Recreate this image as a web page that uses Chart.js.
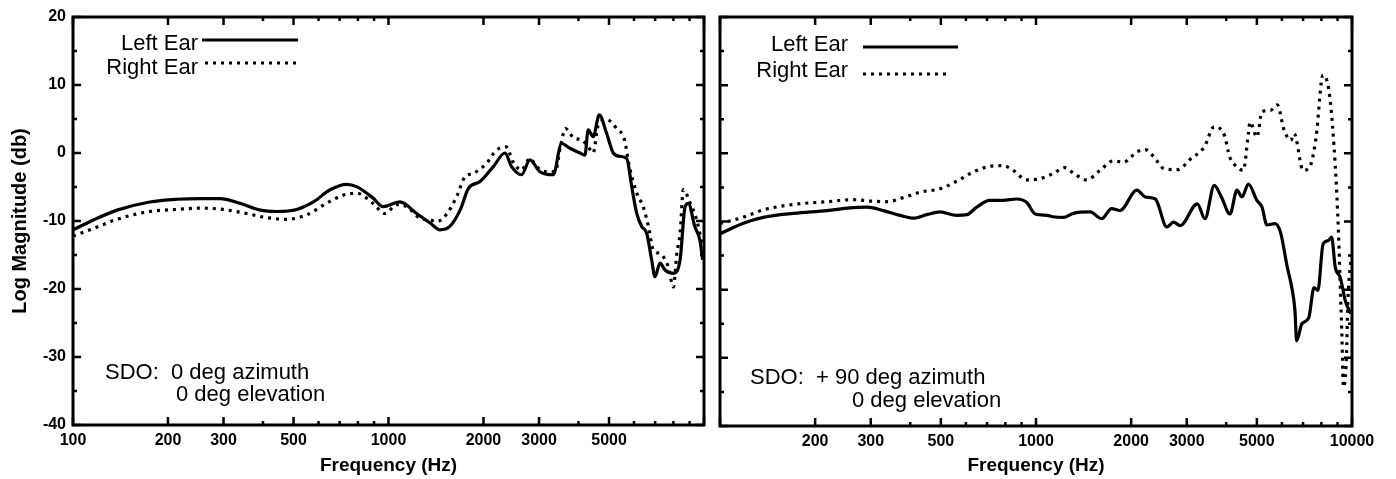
<!DOCTYPE html>
<html><head><meta charset="utf-8">
<script src="https://cdn.jsdelivr.net/npm/chart.js@4.4.0/dist/chart.umd.min.js"></script>
<style>
html,body{margin:0;padding:0;background:#fff;}
#wrap{position:relative;width:1396px;height:479px;overflow:hidden;background:#fff;}
canvas{position:absolute;top:0;}
</style></head><body>
<div id="wrap">
<canvas id="c1" width="712" height="479" style="left:0"></canvas>
<canvas id="c2" width="684" height="479" style="left:712px"></canvas>
</div>
<script>
// ---------- axis ticks ----------
const freqTicks = [100,200,300,500,1000,2000,3000,5000,10000];
const freqMinor = [400,600,700,800,900,4000,6000,7000,8000,9000];
const dbTicks = [20,10,0,-10,-20,-30,-40];
const dbMinor = [15,5,-5,-15,-25,-35];
const seriesNames = ["Left Ear","Right Ear"];
const xTitle = "Frequency (Hz)";
const yTitle = "Log Magnitude (db)";
const noteLeft = ["SDO:  0 deg azimuth","0 deg elevation"];
const noteRight = ["SDO:  + 90 deg azimuth","0 deg elevation"];

// ---------- panel 1 : 0 deg azimuth ----------
const p1LeftFreq = [100,116,138,175,213,253,293,338,392,442,512,578,653,737,792,892,962,1087,1228,1355,1456,1564,1686,1792,1951,2149,2340,2455,2642,2806,3018,3326,3537,3758,4044,4193,4295,4453,4657,4912,5158,5418,5690,5902,6123,6346,6581,6824,6993,7255,7526,8000,8400,8710,8920,9350,9700,9900];
const p1LeftDb = [-11.3,-9.85,-8.4,-7.2,-6.8,-6.7,-6.7,-7.4,-8.4,-8.6,-8.3,-7.2,-5.4,-4.6,-4.95,-6.6,-7.9,-7.2,-8.9,-10.3,-11.3,-10.8,-8.4,-5.2,-4.2,-2.0,0.0,-2.0,-3.2,-1.0,-2.75,-3.2,1.4,0.7,0,-0.3,3.4,2.4,5.6,2.9,0,-0.5,-0.8,-5.0,-8.9,-10.8,-11.8,-15.7,-18.2,-16.2,-17.2,-17.7,-15.7,-7.9,-7.4,-10.8,-12.8,-15.7];
const p1RightFreq = [100,116,138,175,213,253,299,355,411,476,550,636,718,792,892,974,1063,1144,1259,1355,1424,1533,1645,1748,1856,2047,2196,2362,2481,2640,2806,2948,3172,3378,3506,3637,3867,4110,4295,4453,4620,4912,5291,5600,5800,6123,6415,6666,6912,7255,7700,8000,8200,8400,8600,9050,9480,9900];
const p1RightDb = [-12.2,-11.1,-9.75,-8.6,-8.3,-8.1,-8.3,-8.9,-9.5,-9.75,-9.1,-7.4,-6.2,-5.9,-7.4,-8.9,-7.6,-7.9,-9.6,-9.85,-10.1,-8.9,-6.4,-3.5,-3.0,-1.5,0.4,0.9,-1.3,-2.5,-0.8,-2.0,-2.75,-2.75,0.9,3.6,2.2,1.9,0.9,0,4.1,4.9,3.6,1.9,-2.0,-5.9,-7.9,-10.8,-14.3,-14.8,-16.7,-19.7,-14.8,-11.8,-5.4,-7.4,-9.85,-13.8];

// ---------- panel 2 : +90 deg azimuth ----------
const p2LeftFreq = [100,118,137,171,218,258,291,329,371,409,451,497,561,604,649,714,787,869,935,994,1082,1130,1220,1313,1485,1613,1735,1843,2086,2216,2386,2594,2724,2860,3240,3425,3665,3860,4110,4325,4485,4700,5000,5190,5380,5710,5940,6240,6450,6600,6680,6940,7300,7580,7800,8100,8420,8620,8850,9180,9520,9900];
const p2LeftDb = [-11.8,-10.3,-9.4,-8.8,-8.4,-8.0,-7.9,-8.4,-9.1,-9.5,-9.0,-8.6,-9.1,-9.0,-7.9,-6.9,-6.9,-6.7,-7.2,-8.9,-9.1,-9.3,-9.4,-8.8,-8.6,-9.6,-8.1,-8.4,-5.4,-6.4,-6.7,-10.8,-10.1,-10.6,-7.4,-9.6,-4.7,-6.4,-8.9,-5.4,-6.4,-4.5,-6.9,-7.9,-10.5,-10.3,-11.6,-16.7,-19.7,-23.1,-27.5,-25.0,-24.1,-19.7,-20.1,-13.3,-12.8,-12.3,-16.7,-18.2,-21.6,-23.5];
const p2RightFreq = [100,118,137,171,218,264,298,337,380,429,497,561,632,714,787,847,935,1030,1130,1233,1313,1446,1594,1758,1893,2086,2216,2359,2541,2803,3089,3405,3665,3950,4100,4325,4530,4700,4760,5000,5190,5520,5800,6100,6400,6560,7000,7350,7700,8090,8500,8850,9060,9170,9280,9400,9600,9700,9850,10000];
const p2RightDb = [-10.3,-9.4,-8.3,-7.5,-7.1,-6.8,-7.0,-7.1,-6.5,-5.7,-5.2,-4.1,-2.75,-1.9,-1.8,-2.5,-3.9,-3.7,-3.0,-2.1,-2.9,-3.9,-2.5,-1.1,-1.3,0.2,0.55,-0.5,-2.25,-2.4,-0.8,0.9,3.9,2.6,-0.5,-2.0,-2.5,2.9,4.6,2.4,6.1,6.3,7.1,3.4,1.9,2.9,-2.5,-2.0,2.4,11.5,8.4,-1.8,-11.5,-18.8,-26,-34.3,-30,-22,-17,-15];

const pts = (fs, ds) => fs.map((f, i) => ({x: f, y: ds[i]}));

const FONT = "'Liberation Sans', Arial, Helvetica, sans-serif";

const framePlugin = {
  id: 'frame',
  afterDraw(chart, args, o) {
    const {ctx, chartArea: a, scales: {x, y}} = chart;
    ctx.save();
    ctx.strokeStyle = '#000';
    ctx.lineCap = 'butt';
    ctx.lineWidth = 2.5;
    ctx.beginPath();
    const xt = (v, len) => { const px = x.getPixelForValue(v); ctx.moveTo(px, a.bottom); ctx.lineTo(px, a.bottom - len); ctx.moveTo(px, a.top); ctx.lineTo(px, a.top + len); };
    const yt = (v, len) => { const py = y.getPixelForValue(v); ctx.moveTo(a.left, py); ctx.lineTo(a.left + len, py); ctx.moveTo(a.right, py); ctx.lineTo(a.right - len, py); };
    freqTicks.forEach(v => xt(v, 8));
    freqMinor.forEach(v => xt(v, 4));
    dbTicks.forEach(v => yt(v, 8));
    dbMinor.forEach(v => yt(v, 4));
    ctx.stroke();
    ctx.lineWidth = 3;
    ctx.strokeRect(a.left, a.top, a.right - a.left, a.bottom - a.top);
    ctx.fillStyle = '#000';
    ctx.font = "22px " + FONT;
    ctx.textAlign = 'right';
    ctx.textBaseline = 'alphabetic';
    chart.data.datasets.forEach((ds, i) => {
      const L = o.legend[i];
      ctx.fillText(ds.label, L.tx, L.ty);
      ctx.beginPath();
      ctx.lineWidth = ds.borderWidth;
      ctx.setLineDash(ds.borderDash || []);
      ctx.moveTo(L.x0, L.ly); ctx.lineTo(L.x1, L.ly);
      ctx.stroke();
      ctx.setLineDash([]);
    });
    ctx.textAlign = 'left';
    o.note.forEach((n, i) => ctx.fillText(o.noteText[i], n.x, n.y));
    ctx.restore();
  }
};

function makeChart(id, d1, d2, showY, xLabelSkip, pad, xHeight, legend, note, noteText) {
  return new Chart(document.getElementById(id), {
    type: 'line',
    data: {
      datasets: [
        {label: seriesNames[0], data: d1, borderColor: '#000', borderWidth: 3.2, pointRadius: 0, cubicInterpolationMode: 'monotone', fill: false},
        {label: seriesNames[1], data: d2, borderColor: '#000', borderWidth: 3.2, borderDash: [3, 5], pointRadius: 0, cubicInterpolationMode: 'monotone', fill: false}
      ]
    },
    options: {
      responsive: false, animation: false, devicePixelRatio: 1,
      layout: {padding: pad},
      plugins: {legend: {display: false}, tooltip: {enabled: false},
        frame: {legend, note, noteText}},
      scales: {
        x: {
          type: 'logarithmic', min: 100, max: 10000,
          grid: {display: false, drawTicks: false}, border: {display: false},
          afterBuildTicks: s => { s.ticks = freqTicks.map(v => ({value: v})); },
          afterFit: s => { s.height = xHeight; },
          ticks: {autoSkip: false, maxRotation: 0, padding: 6, color: '#000',
            font: {family: FONT, size: 16, weight: 'bold'},
            callback: v => (v === xLabelSkip ? '' : String(v))},
          title: {display: true, text: xTitle, color: '#000', padding: {top: 0, bottom: 2},
            font: {family: FONT, size: 19, weight: 'bold'}}
        },
        y: {
          display: showY, min: -40, max: 20,
          grid: {display: false, drawTicks: false}, border: {display: false},
          afterBuildTicks: s => { s.ticks = dbTicks.map(v => ({value: v})); },
          afterFit: s => { s.width = showY ? 73 : 0; },
          ticks: {padding: 7, color: '#000', font: {family: FONT, size: 16, weight: 'bold'},
            callback: v => String(v)},
          title: {display: showY, text: yTitle, color: '#000', padding: {top: 8, bottom: 0},
            font: {family: FONT, size: 20, weight: 'bold'}}
        }
      }
    },
    plugins: [framePlugin]
  });
}

makeChart('c1', pts(p1LeftFreq, p1LeftDb), pts(p1RightFreq, p1RightDb), true, 10000,
  {left: 0, top: 17, right: 8, bottom: 0}, 54,
  [{tx: 198, ty: 50, x0: 202, x1: 298, ly: 40}, {tx: 198, ty: 74, x0: 205, x1: 296, ly: 63}],
  [{x: 105, y: 379}, {x: 176, y: 401}], noteLeft);

makeChart('c2', pts(p2LeftFreq, p2LeftDb), pts(p2RightFreq, p2RightDb), false, 100,
  {left: 8, top: 17, right: 44, bottom: 0}, 53,
  [{tx: 136, ty: 51, x0: 151, x1: 246, ly: 47}, {tx: 136, ty: 77, x0: 151, x1: 238, ly: 74}],
  [{x: 38, y: 384}, {x: 140, y: 407}], noteRight);
</script>
</body></html>
